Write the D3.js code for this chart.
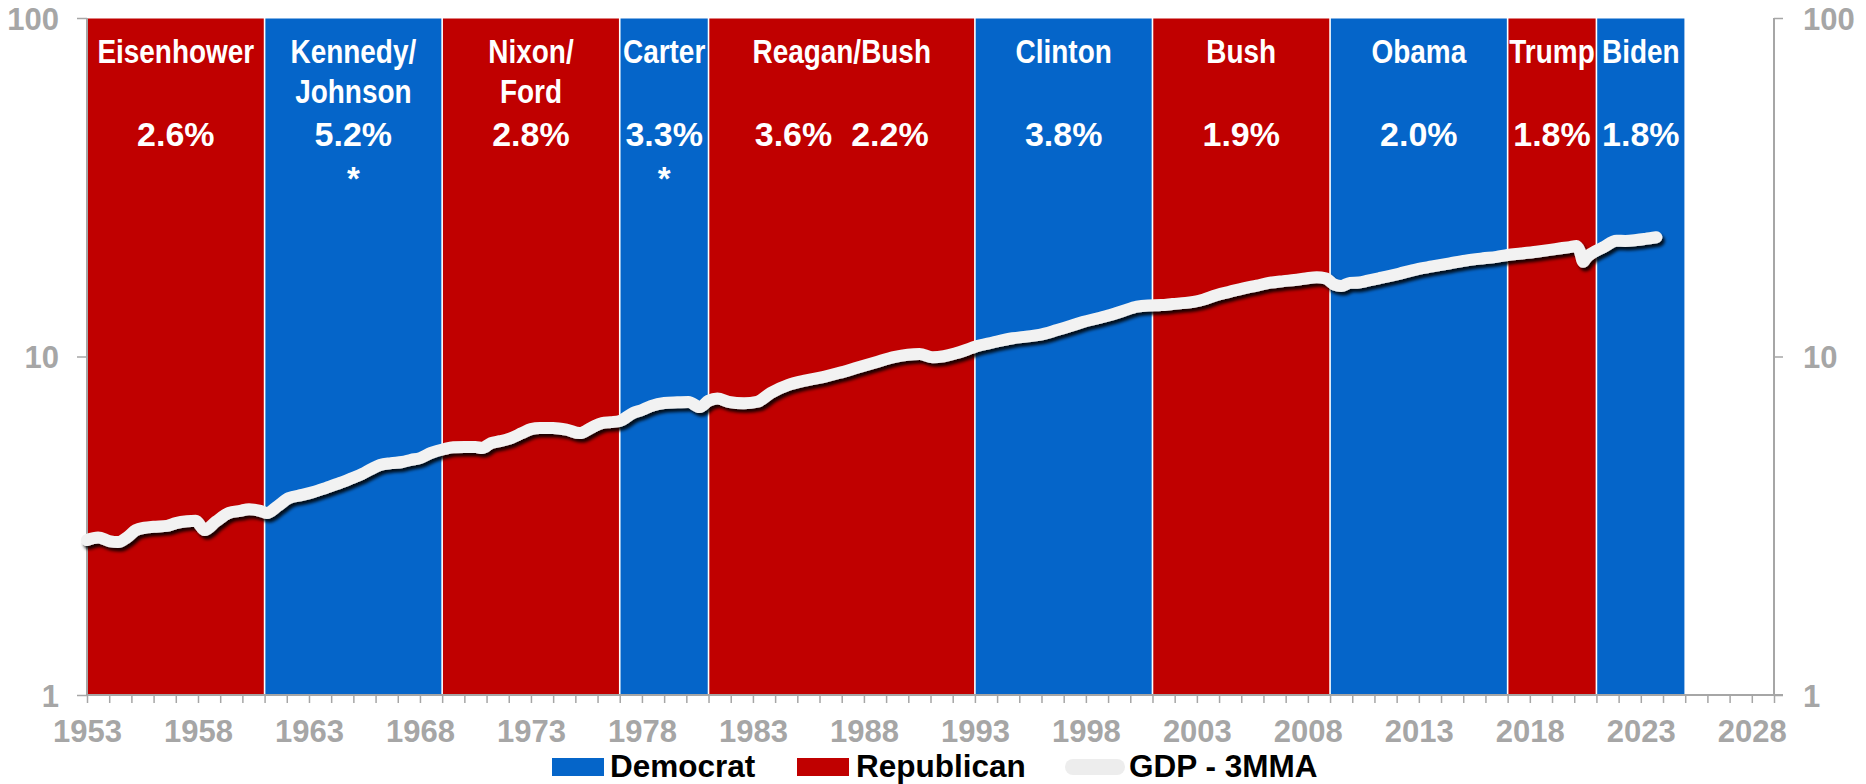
<!DOCTYPE html>
<html>
<head>
<meta charset="utf-8">
<script src="https://cdn.jsdelivr.net/npm/d3@7"></script>
<style>
  html, body { margin: 0; padding: 0; background: #ffffff; }
  svg { display: block; }
  text { font-family: "Liberation Sans", Arial, sans-serif; font-weight: bold; }
</style>
</head>
<body>
<svg id="chart" width="1866" height="784"></svg>
<script>
// ---------------- DATA ----------------
const termNames   = [["Eisenhower"], ["Kennedy/", "Johnson"], ["Nixon/", "Ford"], ["Carter"], ["Reagan/Bush"],
                     ["Clinton"], ["Bush"], ["Obama"], ["Trump"], ["Biden"]];
const termStart   = [1953, 1961, 1969, 1977, 1981, 1993, 2001, 2009, 2017, 2021];
const termEnd     = [1961, 1969, 1977, 1981, 1993, 2001, 2009, 2017, 2021, 2025];
const termParty   = ["Republican", "Democrat", "Republican", "Democrat", "Republican",
                     "Democrat", "Republican", "Democrat", "Republican", "Democrat"];
const termGrowth  = ["2.6%", "5.2%", "2.8%", "3.3%", "3.6%  2.2%", "3.8%", "1.9%", "2.0%", "1.8%", "1.8%"];
const termStar    = [false, true, false, true, false, false, false, false, false, false];

// GDP - 3MMA (log scale)
const gdpYear = [1953.0, 1953.5, 1954.0, 1954.4, 1954.8, 1955.2, 1955.6, 1956.0, 1956.6, 1957.0, 1957.5, 1957.9,
  1958.3, 1958.8, 1959.4, 1959.9, 1960.3, 1960.8, 1961.1, 1961.6, 1962.1, 1962.7, 1963.2, 1963.8, 1964.4, 1964.9,
  1965.4, 1965.8, 1966.2, 1966.7, 1967.2, 1967.6, 1968.0, 1968.5, 1969.1, 1969.5, 1970.0, 1970.5, 1970.8, 1971.2,
  1971.6, 1972.0, 1972.6, 1973.0, 1973.4, 1974.0, 1974.6, 1975.2, 1975.7, 1976.2, 1976.6, 1977.0, 1977.6, 1978.0,
  1978.4, 1979.0, 1979.6, 1980.1, 1980.6, 1981.0, 1981.4, 1981.9, 1982.6, 1983.2, 1983.8, 1984.6, 1985.4, 1986.2,
  1986.9, 1987.6, 1988.5, 1989.4, 1990.5, 1991.1, 1991.6, 1992.1, 1992.6, 1993.0, 1993.8, 1994.7, 1995.3, 1995.9,
  1996.7, 1997.3, 1997.9, 1998.5, 1999.1, 1999.7, 2000.3, 2000.8, 2001.4, 2001.9, 2002.5, 2003.1, 2003.9, 2004.5,
  2005.1, 2005.7, 2006.3, 2006.9, 2007.4, 2007.9, 2008.4, 2008.8, 2009.2, 2009.5, 2009.9, 2010.3, 2010.7, 2011.2,
  2011.7, 2012.1, 2012.9, 2013.6, 2014.4, 2015.1, 2015.9, 2016.5, 2017.0, 2017.6, 2018.3, 2018.9, 2019.4, 2019.8,
  2020.1, 2020.25, 2020.4, 2020.55, 2020.8, 2021.3, 2021.9, 2022.3, 2022.8, 2023.2, 2023.7];
const gdpValue = [2.87, 2.92, 2.85, 2.83, 2.92, 3.07, 3.12, 3.14, 3.16, 3.22, 3.26, 3.27,
  3.07, 3.25, 3.45, 3.50, 3.54, 3.50, 3.45, 3.62, 3.82, 3.90, 3.98, 4.10, 4.23, 4.36,
  4.50, 4.65, 4.78, 4.84, 4.88, 4.95, 5.01, 5.19, 5.33, 5.39, 5.40, 5.40, 5.37, 5.55,
  5.62, 5.71, 5.94, 6.10, 6.15, 6.15, 6.08, 5.94, 6.15, 6.36, 6.40, 6.45, 6.81, 6.95,
  7.14, 7.29, 7.32, 7.34, 7.09, 7.40, 7.52, 7.35, 7.27, 7.35, 7.80, 8.24, 8.50, 8.71,
  8.95, 9.23, 9.60, 9.98, 10.17, 9.95, 10.02, 10.20, 10.45, 10.69, 11.00, 11.32, 11.45, 11.58,
  11.97, 12.30, 12.67, 12.95, 13.26, 13.65, 14.03, 14.15, 14.19, 14.29, 14.40, 14.61, 15.20, 15.55,
  15.90, 16.20, 16.52, 16.70, 16.83, 17.00, 17.14, 17.02, 16.30, 16.15, 16.50, 16.55, 16.75, 17.02,
  17.30, 17.55, 18.10, 18.45, 18.85, 19.20, 19.50, 19.70, 19.95, 20.15, 20.40, 20.65, 20.88, 21.05,
  21.20, 20.50, 19.05, 19.60, 20.20, 21.00, 21.98, 21.95, 22.08, 22.25, 22.50];

const xTickLabels = [1953, 1958, 1963, 1968, 1973, 1978, 1983, 1988, 1993, 1998, 2003, 2008, 2013, 2018, 2023, 2028];
const yTickValues = [1, 10, 100];
const legendItems = ["Democrat", "Republican", "GDP - 3MMA"];

// ---------------- LAYOUT ----------------
const colors = { Democrat: "#0565C9", Republican: "#C00000", line: "#F2F2F2", axis: "#A6A6A6" };
const plot = { left: 87, right: 1774, top: 18, bottom: 695 };

const svg = d3.select("#chart");
const x = d3.scaleLinear().domain([1953, 2029]).range([plot.left, plot.right]);
const y = d3.scaleLog().domain([1, 100]).range([plot.bottom, plot.top]);

const defs = svg.append("defs");
const f = defs.append("filter").attr("id", "shadow").attr("x", "-5%").attr("y", "-20%").attr("width", "110%").attr("height", "140%");
f.append("feDropShadow").attr("dx", 2.5).attr("dy", 3.5).attr("stdDeviation", 1.8)
  .attr("flood-color", "#000").attr("flood-opacity", 0.85);

// ---------------- BARS ----------------
const terms = termStart.map((s, i) => ({ s, e: termEnd[i], party: termParty[i], names: termNames[i],
  growth: termGrowth[i], star: termStar[i] }));

svg.append("g").selectAll("rect").data(terms).join("rect")
  .attr("x", d => x(d.s) + 0.8)
  .attr("width", d => x(d.e) - x(d.s) - 1.6)
  .attr("y", y(100) + 0.5)
  .attr("height", y(1) - y(100) - 0.5)
  .attr("fill", d => colors[d.party]);

// ---------------- AXES ----------------
const axisG = svg.append("g").attr("class", "axes");
// bottom
const bottomAxis = d3.axisBottom(x)
  .tickValues(d3.range(1953, 2030, 1))
  .tickSize(8)
  .tickFormat(d => xTickLabels.includes(d) ? String(d) : "");
const bx = axisG.append("g").attr("transform", `translate(0,${plot.bottom})`).call(bottomAxis);
bx.select(".domain").attr("stroke", colors.axis).attr("stroke-width", 2)
  .attr("d", `M${plot.left},0H${plot.right + 9}`);
bx.selectAll(".tick line").attr("stroke", colors.axis).attr("stroke-width", 1.5);
bx.selectAll(".tick text").attr("fill", colors.axis).attr("font-size", 31).attr("y", 0).attr("dy", 0)
  .attr("transform", "translate(0,47)");

// left
const leftAxis = d3.axisLeft(y).tickValues(yTickValues).tickSize(10).tickFormat(d3.format("d"));
const lx = axisG.append("g").attr("transform", `translate(${plot.left},0)`).call(leftAxis);
lx.select(".domain").attr("stroke", colors.axis).attr("stroke-width", 2).attr("d", `M0,${plot.top}V${plot.bottom}`);
lx.selectAll(".tick line").attr("stroke", colors.axis).attr("stroke-width", 1.5);
lx.selectAll(".tick text").attr("fill", colors.axis).attr("font-size", 31).attr("x", -28).attr("dy", "0.36em");

// right
const rightAxis = d3.axisRight(y).tickValues(yTickValues).tickSize(9).tickFormat(d3.format("d"));
const rx = axisG.append("g").attr("transform", `translate(${plot.right},0)`).call(rightAxis);
rx.select(".domain").attr("stroke", colors.axis).attr("stroke-width", 2).attr("d", `M0,${plot.top}V${plot.bottom}`);
rx.selectAll(".tick line").attr("stroke", colors.axis).attr("stroke-width", 1.5);
rx.selectAll(".tick text").attr("fill", colors.axis).attr("font-size", 31).attr("x", 29).attr("dy", "0.36em");

svg.selectAll(".axes text").attr("font-family", "'Liberation Sans', Arial, sans-serif").attr("font-weight", "bold");

// ---------------- LABELS IN BARS ----------------
const lab = svg.append("g").attr("fill", "#fff").attr("text-anchor", "middle");
terms.forEach(t => {
  const cx = (x(t.s) + x(t.e)) / 2;
  t.names.forEach((n, k) => {
    lab.append("text").attr("transform", `translate(${cx},${63 + k * 40}) scale(0.86,1)`)
      .attr("font-size", 32.5).text(n);
  });
  lab.append("text").attr("x", cx).attr("y", 146).attr("font-size", 34)
    .style("white-space", "pre").attr("xml:space", "preserve").text(t.growth);
  if (t.star) lab.append("text").attr("x", cx).attr("y", 190).attr("font-size", 33).text("*");
});

// ---------------- LINE ----------------
const gdp = gdpYear.map((yr, i) => ({ yr, v: gdpValue[i] }));
const line = d3.line().x(d => x(d.yr)).y(d => y(d.v)).curve(d3.curveMonotoneX);
svg.append("path").datum(gdp).attr("d", line)
  .attr("fill", "none").attr("stroke", colors.line).attr("stroke-width", 12)
  .attr("stroke-linejoin", "round").attr("stroke-linecap", "round")
  .attr("filter", "url(#shadow)");

// ---------------- LEGEND ----------------
const lg = svg.append("g");
const legendX = [552, 797, 1065];
const textX = [610, 856, 1129];
legendItems.forEach((name, i) => {
  if (i < 2) {
    lg.append("rect").attr("x", legendX[i]).attr("y", 758).attr("width", 52).attr("height", 18)
      .attr("fill", colors[name]);
  } else {
    lg.append("line").attr("x1", legendX[i] + 8).attr("x2", legendX[i] + 52).attr("y1", 767).attr("y2", 767)
      .attr("stroke", "#EDEDED").attr("stroke-width", 16).attr("stroke-linecap", "round");
  }
  lg.append("text").attr("x", textX[i]).attr("y", 777).attr("font-size", 31.5).attr("fill", "#000").text(name);
});
</script>
</body>
</html>
